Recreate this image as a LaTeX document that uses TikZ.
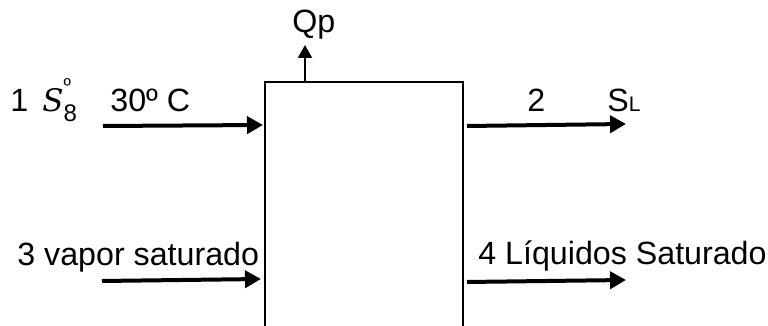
\documentclass[tikz,border=0pt]{standalone}
\usepackage{fontspec}
\setmainfont{Liberation Sans}
\newfontfamily\serifit{DejaVu Serif}
\usetikzlibrary{arrows.meta}
\begin{document}
\begin{tikzpicture}[x=0.5pt,y=-0.5pt,
  lbl/.style={anchor=base west,inner sep=0pt,font=\fontsize{16.1}{18}\selectfont},
  flow/.style={line width=2pt,-{Triangle[length=8pt,width=8.5pt]}},
  boxline/.style={line width=1.2pt}]
\useasboundingbox (0,0) rectangle (768,326);
% open-bottom box
\coordinate (bl) at (265,326);
\coordinate (tl) at (265,82);
\coordinate (tr) at (463,82);
\coordinate (br) at (463,326);
\draw[boxline] (bl) -- (tl) -- (tr) -- (br);
% heat arrow
\coordinate (qs) at (305,82);
\coordinate (qe) at (305,45);
\draw[line width=1.1pt,-{Triangle[length=6.5pt,width=7pt]}] (qs) -- (qe);
\node[lbl] (qp) at (292,33) {Qp};
% stream 1
\node[lbl] (n1) at (10,112) {1};
\node[lbl] (s8) at (42,112) {{\serifit\itshape\fontsize{15.5}{16}\selectfont S}\rlap{\raisebox{0.6em}{\fontsize{10}{10}\selectfont º}}\raisebox{-0.3em}{\fontsize{12}{12}\selectfont 8}};
\node[lbl] (t30) at (110,112) {30º C};
\coordinate (a1s) at (103,126);
\coordinate (a1e) at (263,125);
\draw[flow] (a1s) -- (a1e);
% stream 2
\node[lbl] (n2) at (527,112) {2};
\node[lbl] (sl) at (607,112) {S{\fontsize{10.5}{10}\selectfont L}};
\coordinate (a2s) at (467,126);
\coordinate (a2e) at (626,124);
\draw[flow] (a2s) -- (a2e);
% stream 3
\node[lbl] (n3) at (17,266) {3 vapor saturado};
\coordinate (a3s) at (102,281);
\coordinate (a3e) at (261,279);
\draw[flow] (a3s) -- (a3e);
% stream 4
\node[lbl] (n4) at (478,265) {4 Líquidos Saturado};
\coordinate (a4s) at (467,282);
\coordinate (a4e) at (626,280);
\draw[flow] (a4s) -- (a4e);
\end{tikzpicture}
\end{document}
